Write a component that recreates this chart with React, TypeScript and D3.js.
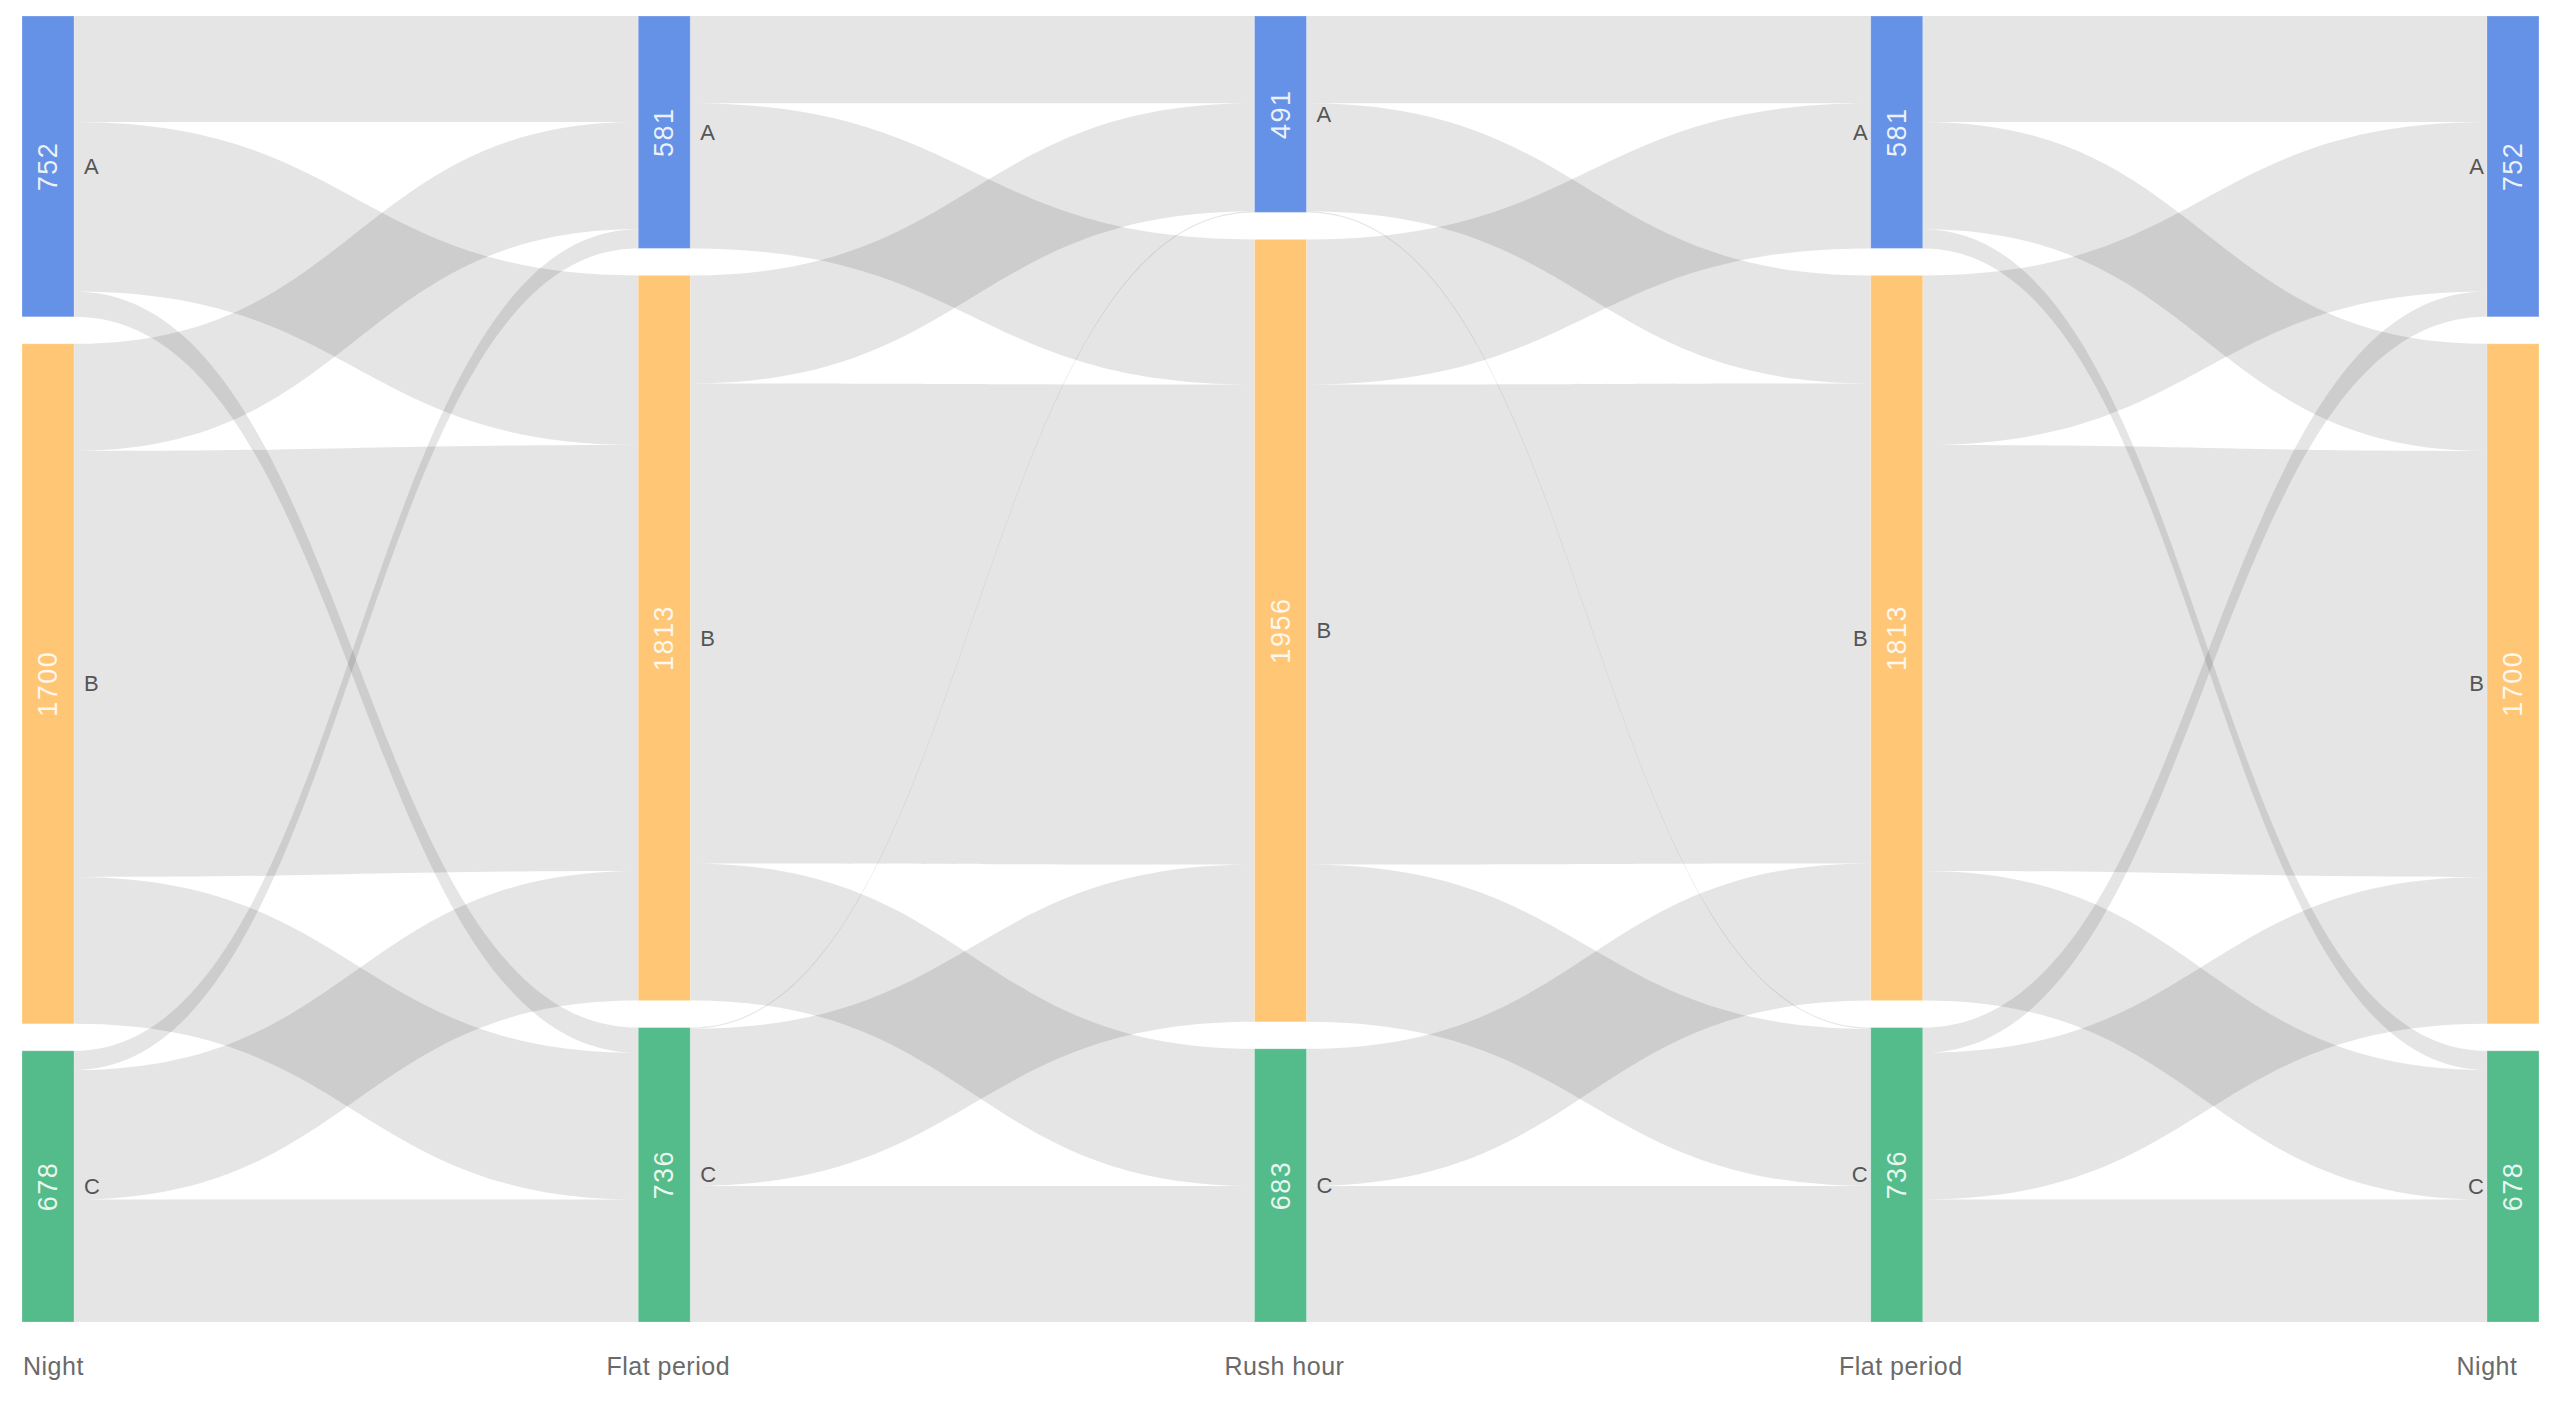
import React from "react";
import * as d3 from "d3";

// ---- data ----
const stages = ["Night", "Flat period", "Rush hour", "Flat period", "Night"];
const categories = ["A", "B", "C"];
const categoryColors = ["#6591E6", "#FEC675", "#54BB8B"];

// flows between consecutive stages: rows = source category, cols = target category
const flowNightToFlat = [
  [265, 424, 63],
  [268, 1065, 367],
  [48, 324, 306],
];
const flowFlatToRush = [
  [218, 363, 0],
  [270, 1200, 343],
  [3, 393, 340],
];
const flowRushToFlat = [
  [218, 270, 3],
  [363, 1200, 393],
  [0, 343, 340],
];
const flowFlatToNight = [
  [265, 268, 48],
  [424, 1065, 324],
  [63, 367, 306],
];
const segments = [flowNightToFlat, flowFlatToRush, flowRushToFlat, flowFlatToNight];

// ---- layout constants ----
const W = 2560;
const H = 1404;
const left = 22;
const right = 2539;
const top = 16;
const bottom = 1322;
const nodeWidth = 52;
const nodePadding = 27;

type Node = { col: number; cat: number; value: number; x0: number; x1: number; y0: number; y1: number };
type Link = { s: Node; t: Node; value: number; sy0: number; sy1: number; ty0: number; ty1: number };

function buildLayout() {
  const nCols = stages.length;
  const values: number[][] = [];
  for (let c = 0; c < nCols; c++) {
    values.push(
      categories.map((_, k) => {
        const out = c < segments.length ? d3.sum(segments[c][k]) : 0;
        const inn = c > 0 ? d3.sum(segments[c - 1].map((row) => row[k])) : 0;
        return Math.max(out, inn);
      })
    );
  }
  const maxTotal = d3.max(values, (v) => d3.sum(v)) as number;
  const ky = d3
    .scaleLinear()
    .domain([0, maxTotal])
    .range([0, bottom - top - nodePadding * (categories.length - 1)]);
  const xCol = d3.scaleLinear().domain([0, nCols - 1]).range([left, right - nodeWidth]);

  const nodes: Node[][] = values.map((vals, c) => {
    let y = top;
    return vals.map((v, k) => {
      const n: Node = { col: c, cat: k, value: v, x0: xCol(c), x1: xCol(c) + nodeWidth, y0: y, y1: y + ky(v) };
      y = n.y1 + nodePadding;
      return n;
    });
  });

  const links: Link[] = [];
  segments.forEach((m, c) => {
    const srcOff = nodes[c].map((n) => n.y0);
    const tgtOff = nodes[c + 1].map((n) => n.y0);
    const segLinks: Link[] = [];
    m.forEach((row, i) =>
      row.forEach((v, j) => {
        if (v <= 0) return;
        segLinks.push({ s: nodes[c][i], t: nodes[c + 1][j], value: v, sy0: 0, sy1: 0, ty0: 0, ty1: 0 });
      })
    );
    for (let i = 0; i < categories.length; i++) {
      segLinks
        .filter((l) => l.s.cat === i)
        .sort((a, b) => a.t.cat - b.t.cat)
        .forEach((l) => {
          l.sy0 = srcOff[i];
          l.sy1 = srcOff[i] + ky(l.value);
          srcOff[i] = l.sy1;
        });
    }
    for (let j = 0; j < categories.length; j++) {
      segLinks
        .filter((l) => l.t.cat === j)
        .sort((a, b) => a.s.cat - b.s.cat)
        .forEach((l) => {
          l.ty0 = tgtOff[j];
          l.ty1 = tgtOff[j] + ky(l.value);
          tgtOff[j] = l.ty1;
        });
    }
    links.push(...segLinks);
  });
  return { nodes, links };
}

function linkPath(l: Link) {
  const x0 = l.s.x1;
  const x1 = l.t.x0;
  const xm = d3.interpolateNumber(x0, x1)(0.5);
  const p = d3.path();
  p.moveTo(x0, l.sy0);
  p.bezierCurveTo(xm, l.sy0, xm, l.ty0, x1, l.ty0);
  p.lineTo(x1, l.ty1);
  p.bezierCurveTo(xm, l.ty1, xm, l.sy1, x0, l.sy1);
  p.closePath();
  return p.toString();
}

export default function App() {
  const { nodes, links } = buildLayout();
  const font = "'Liberation Sans', Arial, sans-serif";
  const nCols = stages.length;
  return (
    <svg
      width={W}
      height={H}
      viewBox={`0 0 ${W} ${H}`}
      style={{ position: "absolute", left: 0, top: 0, background: "#fff", fontFamily: font }}
    >
      <g>
        {links.map((l, i) => (
          <path key={i} d={linkPath(l)} fill="#000" fillOpacity={0.1} />
        ))}
      </g>
      <g>
        {nodes.flat().map((n, i) => (
          <rect
            key={i}
            x={n.x0}
            y={n.y0}
            width={n.x1 - n.x0}
            height={n.y1 - n.y0}
            fill={categoryColors[n.cat]}
            stroke="#fff"
            strokeOpacity={0.25}
            strokeWidth={1}
          />
        ))}
      </g>
      <g>
        {nodes.flat().map((n, i) => {
          const cx = (n.x0 + n.x1) / 2;
          const cy = (n.y0 + n.y1) / 2;
          return (
            <text
              key={i}
              transform={`translate(${cx},${cy}) rotate(-90)`}
              textAnchor="middle"
              dominantBaseline="central"
              fill="#fff"
              fillOpacity={0.88}
              fontSize={27}
              letterSpacing={1.5}
            >
              {n.value}
            </text>
          );
        })}
      </g>
      <g>
        {nodes.flat().map((n, i) => {
          const cy = (n.y0 + n.y1) / 2;
          const onRight = n.col < Math.ceil(nCols / 2);
          return (
            <text
              key={i}
              x={onRight ? n.x1 + 10 : n.x0 - 3}
              y={cy}
              textAnchor={onRight ? "start" : "end"}
              dominantBaseline="central"
              fill="#555"
              fontSize={22}
            >
              {categories[n.cat]}
            </text>
          );
        })}
      </g>
      <g>
        {nodes.map((col, c) => {
          const n = col[0];
          const first = c === 0;
          const last = c === nCols - 1;
          const x = first ? n.x0 + 1 : last ? n.x0 : (n.x0 + n.x1) / 2 + 4;
          return (
            <text
              key={c}
              x={x}
              y={bottom + 53}
              textAnchor={first ? "start" : "middle"}
              fill="#6a6a6a"
              fontSize={25}
              letterSpacing={0.5}
            >
              {stages[c]}
            </text>
          );
        })}
      </g>
    </svg>
  );
}
